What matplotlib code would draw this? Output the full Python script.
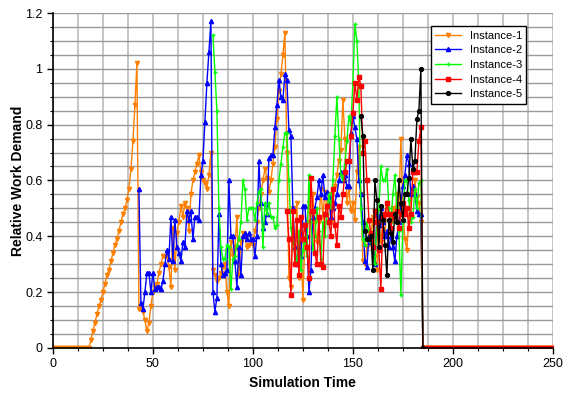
import numpy as np
import matplotlib.pyplot as plt
from matplotlib.ticker import MultipleLocator, FormatStrFormatter

plt.rcParams['font.family'] = ['Liberation Sans', 'DejaVu Sans']

# start times of each instance, all of them end at 0 from t=185 on
start_1 = 0
start_2 = 43
start_3 = 80
start_4 = 117
start_5 = 154
end_t = 185
t_max = 250

inst_1 = [0, 0, 0, 0, 0, 0, 0, 0, 0, 0, 0, 0, 0, 0, 0, 0, 0, 0, 0,
          0.03, 0.06, 0.09, 0.12, 0.15, 0.17, 0.20, 0.23, 0.26, 0.28,
          0.31, 0.34, 0.37, 0.39, 0.42, 0.45, 0.48, 0.50, 0.53, 0.57,
          0.64, 0.74, 0.87, 1.02,
          0.14, 0.14, 0.13, 0.10, 0.06, 0.09, 0.15, 0.20, 0.22, 0.23,
          0.27, 0.30, 0.33, 0.33, 0.33, 0.29, 0.22, 0.43, 0.28,
          0.41, 0.45, 0.51, 0.47, 0.52, 0.50, 0.42, 0.55, 0.60, 0.63,
          0.66, 0.69, 0.63, 0.60, 0.59, 0.57, 0.62, 0.70,
          0.28, 0.26, 0.24, 0.25, 0.27, 0.29, 0.30, 0.20, 0.15, 0.38,
          0.33, 0.36, 0.47, 0.26, 0.38, 0.41, 0.40, 0.36, 0.37, 0.38,
          0.37, 0.42, 0.45, 0.50, 0.55, 0.60, 0.64, 0.61, 0.56, 0.60,
          0.66, 0.72, 0.82, 0.92, 0.98, 1.05, 1.13, 0.70, 0.25, 0.22,
          0.50, 0.30, 0.52, 0.25, 0.38, 0.17, 0.39, 0.45, 0.52, 0.48,
          0.55, 0.45, 0.38, 0.45, 0.57, 0.47, 0.56, 0.50, 0.55, 0.45,
          0.52, 0.58, 0.62, 0.67, 0.71, 0.89, 0.75, 0.52, 0.57, 0.49,
          0.52, 0.46, 0.63, 0.72, 0.55, 0.31, 0.30, 0.36, 0.42, 0.40,
          0.47, 0.33, 0.28, 0.44, 0.38, 0.45, 0.40, 0.52, 0.48, 0.45,
          0.50, 0.47, 0.55, 0.50, 0.75, 0.50, 0.39, 0.35, 0.47, 0.55,
          0.56, 0.60, 0.54, 0.52, 0.45]

inst_2 = [0.57, 0.16, 0.14, 0.20, 0.27, 0.27, 0.20, 0.27, 0.21, 0.22,
          0.22, 0.21, 0.24, 0.30, 0.35, 0.32, 0.47, 0.31, 0.46, 0.36,
          0.34, 0.31, 0.38, 0.36, 0.49, 0.46, 0.49, 0.39, 0.47, 0.47,
          0.46, 0.62, 0.67, 0.81, 0.95, 1.06, 1.17,
          0.20, 0.13, 0.18, 0.48, 0.30, 0.26, 0.27, 0.28, 0.60, 0.40,
          0.40, 0.31, 0.22, 0.36, 0.26, 0.40, 0.41, 0.39, 0.41, 0.39,
          0.39, 0.33, 0.40, 0.67, 0.52, 0.43, 0.45, 0.48, 0.68, 0.69,
          0.69, 0.79, 0.87, 0.96, 0.90, 0.89, 0.98, 0.96, 0.78, 0.76,
          0.50, 0.36, 0.30, 0.38, 0.33, 0.51, 0.51, 0.40, 0.20, 0.28,
          0.47, 0.50, 0.54, 0.60, 0.55, 0.62, 0.54, 0.56, 0.54, 0.47,
          0.50, 0.52, 0.55, 0.60, 0.63, 0.60, 0.62, 0.58, 0.58, 0.77,
          0.83, 0.79, 0.75, 0.60, 0.55, 0.45, 0.31, 0.29, 0.40, 0.38,
          0.36, 0.30, 0.48, 0.44, 0.50, 0.45, 0.40, 0.42, 0.36, 0.40,
          0.36, 0.31, 0.40, 0.45, 0.52, 0.58, 0.62, 0.69, 0.66, 0.55,
          0.58, 0.55, 0.49, 0.48, 0.48]

inst_3 = [1.12, 0.99, 0.85, 0.50, 0.36, 0.32, 0.32, 0.37, 0.36, 0.21,
          0.32, 0.33, 0.37, 0.39, 0.45, 0.60, 0.57, 0.46, 0.50, 0.50,
          0.50, 0.46, 0.52, 0.56, 0.57, 0.36, 0.52, 0.48, 0.52, 0.47,
          0.47, 0.43, 0.44, 0.60, 0.66, 0.72, 0.77, 0.77, 0.60, 0.43,
          0.38, 0.35, 0.30, 0.42, 0.28, 0.35, 0.40, 0.33, 0.62, 0.45,
          0.35, 0.40, 0.50, 0.42, 0.32, 0.45, 0.40, 0.48, 0.55, 0.50,
          0.60, 0.76, 0.90, 0.75, 0.62, 0.60, 0.66, 0.74, 0.83, 0.80,
          0.95, 1.16, 1.10, 0.94, 0.50, 0.39, 0.37, 0.45, 0.42, 0.38,
          0.33, 0.30, 0.45, 0.50, 0.65, 0.60, 0.60, 0.64, 0.50, 0.45,
          0.55, 0.62, 0.50, 0.42, 0.19, 0.45, 0.60, 0.60, 0.53, 0.45,
          0.47, 0.57, 0.50, 0.59, 0.60]

inst_4 = [0.49, 0.39, 0.19, 0.49, 0.30, 0.46, 0.26, 0.47, 0.39, 0.44,
          0.36, 0.25, 0.61, 0.49, 0.34, 0.30, 0.47, 0.30, 0.29, 0.48,
          0.51, 0.45, 0.40, 0.57, 0.44, 0.37, 0.51, 0.47, 0.55, 0.63,
          0.67, 0.67, 0.76, 0.84, 0.95, 0.89, 0.97, 0.94, 0.70, 0.74,
          0.60, 0.46, 0.41, 0.36, 0.49, 0.45, 0.35, 0.21, 0.47, 0.48,
          0.52, 0.48, 0.43, 0.48, 0.47, 0.49, 0.43, 0.48, 0.52, 0.48,
          0.50, 0.43, 0.48, 0.63, 0.63, 0.63, 0.74, 0.79]

inst_5 = [0.83, 0.76, 0.42, 0.39, 0.39, 0.40, 0.28, 0.60, 0.53, 0.36,
          0.51, 0.46, 0.37, 0.26, 0.46, 0.41, 0.38, 0.48, 0.45, 0.60,
          0.52, 0.46, 0.55, 0.55, 0.61, 0.75, 0.64, 0.67, 0.82, 0.85,
          1.00]

labels = ['Instance-1', 'Instance-2', 'Instance-3', 'Instance-4', 'Instance-5']
colors = ['#FF8000', '#0000FF', '#00FF00', '#FF0000', '#000000']
markers = ['v', '^', '+', 's', 'o']
msizes = [3, 3, 3.5, 3.5, 2.8]

fig = plt.figure(figsize=(5.63, 3.94), dpi=100)
ax = fig.add_axes([0.094, 0.117, 0.888, 0.850])

series = [(start_1, inst_1), (start_2, inst_2), (start_3, inst_3),
          (start_4, inst_4), (start_5, inst_5)]
for i, (t0, vals) in enumerate(series):
    # after the end every instance sits at 0 (instance 5 only for one step)
    n_tail = 1 if i == 4 else t_max - end_t + 1
    y = np.array(list(vals) + [0.0] * n_tail)
    t = np.arange(t0, t0 + len(y))
    ax.plot(t, y, color=colors[i], marker=markers[i], markersize=msizes[i],
            linewidth=1.0, label=labels[i])

ax.set_xlim(0, 250)
ax.set_ylim(0, 1.2)
ax.xaxis.set_major_locator(MultipleLocator(50))
ax.xaxis.set_minor_locator(MultipleLocator(12.5))
ax.yaxis.set_major_locator(MultipleLocator(0.2))
ax.yaxis.set_minor_locator(MultipleLocator(0.05))
ax.yaxis.set_major_formatter(FormatStrFormatter('%g'))
ax.grid(True, which='both', axis='x', color='#BBBBBB', linewidth=1.2)
ax.grid(True, which='both', axis='y', color='#999999', linewidth=1.0)
ax.set_axisbelow(True)
for s in ['top', 'right']:
    ax.spines[s].set_visible(False)
ax.spines['left'].set_linewidth(1.2)
ax.spines['bottom'].set_linewidth(1.2)
ax.tick_params(which='major', length=4, width=1, labelsize=9)
ax.tick_params(which='minor', length=2.5, width=0.8)

ax.set_xlabel('Simulation Time', fontsize=10, fontweight='bold')
ax.set_ylabel('Relative Work Demand', fontsize=10, fontweight='bold', labelpad=0)

leg = ax.legend(loc='upper right', bbox_to_anchor=(0.958, 0.977), fontsize=8,
                fancybox=False, framealpha=1, edgecolor='black',
                borderpad=0.4, labelspacing=0.42, handlelength=2.3)
leg.get_frame().set_linewidth(1)

fig.savefig('out.png', dpi=100)
